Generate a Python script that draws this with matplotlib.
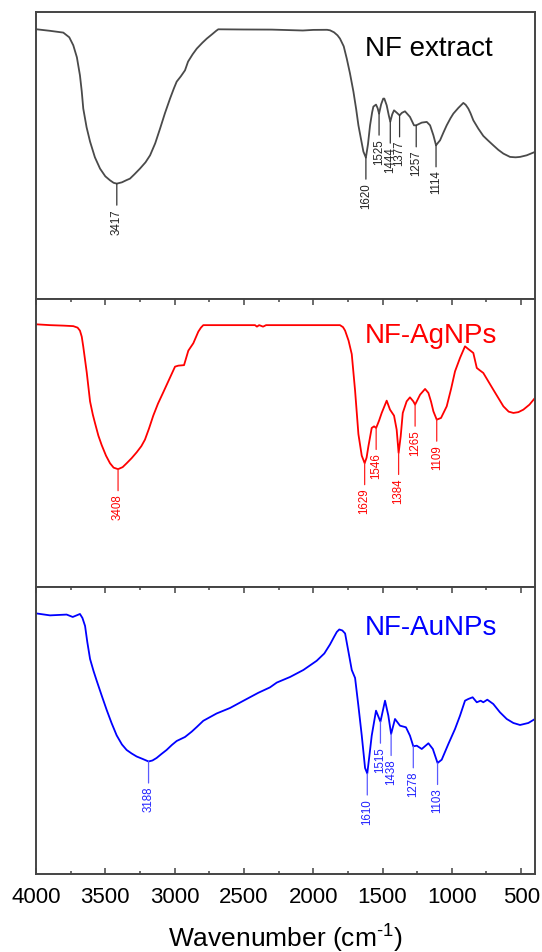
import numpy as np
import matplotlib
matplotlib.use("Agg")
import matplotlib.pyplot as plt
from matplotlib.ticker import MultipleLocator

plt.rcParams['font.family'] = ['Liberation Sans', 'DejaVu Sans']
plt.rcParams['mathtext.fontset'] = 'custom'
plt.rcParams['mathtext.rm'] = 'Liberation Sans'
plt.rcParams['mathtext.it'] = 'Liberation Sans:italic'

# ---------------- data (transmittance, arbitrary units) ----------------
nf_wn = [3995, 3900, 3803, 3760, 3731, 3705, 3683, 3670, 3659, 3635, 3610, 3575,
         3538, 3500, 3466, 3440, 3417, 3380, 3350, 3322, 3290, 3250, 3210, 3177,
         3140, 3105, 3070, 3033, 3005, 2985, 2955, 2925, 2903, 2870, 2840, 2800,
         2768, 2730, 2700, 2685, 2500, 2300, 2075, 2000, 1900, 1879, 1850, 1825,
         1807, 1780, 1758, 1735, 1710, 1690, 1674, 1655, 1638, 1620, 1605, 1590,
         1575, 1566, 1547, 1535, 1525, 1510, 1495, 1487, 1470, 1455, 1444, 1430,
         1417, 1398, 1377, 1360, 1338, 1302, 1273, 1257, 1217, 1181, 1157, 1133,
         1114, 1100, 1085, 1060, 1037, 1010, 989, 953, 917, 900, 881, 865,
         845, 809, 773, 740, 701, 665, 628, 580, 540, 508, 460, 400]
nf_t = [270.0, 268.5, 266.7, 262.0, 254.0, 242.0, 224.0, 208.0, 190.7, 172.0, 157.7, 142.0,
        130.7, 123.0, 119.0, 116.5, 115.7, 117.0, 119.0, 120.7, 125.0, 130.7, 137.0, 144.0,
        156.0, 170.7, 186.0, 200.7, 211.0, 217.7, 223.0, 229.0, 237.7, 245.0, 250.7, 256.5,
        260.7, 265.0, 268.5, 270.0, 269.8, 269.7, 268.8, 269.4, 269.5, 269.0, 267.0, 264.0,
        260.7, 253.0, 240.7, 226.0, 207.7, 190.0, 174.0, 160.0, 147.7, 141.7, 155.0, 174.0,
        187.0, 192.7, 194.7, 191.0, 185.7, 195.0, 200.7, 200.7, 194.0, 184.0, 177.7, 185.0,
        189.0, 186.7, 184.0, 186.5, 188.0, 182.4, 174.0, 174.0, 176.7, 177.4, 174.0, 164.0,
        154.0, 156.5, 159.0, 167.0, 174.0, 181.0, 185.7, 191.4, 196.4, 194.5, 190.7, 186.0,
        179.0, 170.7, 163.4, 159.0, 154.0, 149.5, 145.7, 142.4, 142.0, 142.4, 144.0, 147.4]

ag_wn = [3995, 3900, 3800, 3731, 3700, 3683, 3670, 3659, 3634, 3610, 3590, 3574,
         3550, 3526, 3495, 3466, 3440, 3408, 3375, 3346, 3310, 3274, 3240, 3214,
         3185, 3154, 3120, 3082, 3040, 2997, 2973, 2932, 2901, 2865, 2829, 2810,
         2793, 2500, 2420, 2406, 2390, 2362, 2340, 2000, 1807, 1785, 1770, 1745,
         1722, 1698, 1674, 1650, 1629, 1615, 1602, 1578, 1561, 1546, 1525, 1506,
         1470, 1446, 1417, 1398, 1384, 1369, 1354, 1326, 1302, 1278, 1265, 1229,
         1193, 1169, 1150, 1133, 1109, 1078, 1037, 1005, 977, 941, 905, 885,
         869, 845, 820, 800, 773, 701, 628, 590, 556, 520, 484, 440, 400]
ag_t = [262.3, 261.5, 261.0, 260.5, 259.0, 256.0, 250.0, 240.0, 214.3, 185.2, 172.0, 163.4,
        151.0, 141.5, 131.0, 123.4, 119.0, 117.5, 119.5, 123.4, 128.5, 134.3, 140.5, 147.0,
        158.0, 171.0, 183.0, 194.3, 207.0, 220.0, 221.0, 221.5, 236.0, 243.4, 255.0, 259.0,
        261.5, 261.5, 261.5, 260.0, 261.5, 260.0, 261.5, 261.5, 261.5, 259.5, 256.0, 246.0,
        232.5, 196.0, 152.5, 131.0, 123.5, 129.0, 140.3, 158.7, 160.3, 158.7, 166.0, 173.7,
        186.0, 177.0, 171.0, 157.0, 133.7, 150.3, 173.7, 185.3, 189.3, 185.3, 182.0, 192.0,
        197.7, 193.7, 185.0, 175.3, 167.0, 168.7, 180.3, 198.0, 215.3, 228.7, 240.3, 238.0,
        236.3, 233.7, 218.7, 216.5, 213.7, 197.0, 180.3, 175.0, 173.7, 174.5, 177.0, 182.0, 188.7]

au_wn = [3995, 3899, 3779, 3735, 3700, 3683, 3665, 3646, 3630, 3610, 3585, 3562,
         3525, 3490, 3455, 3418, 3380, 3346, 3310, 3274, 3230, 3188, 3160, 3130,
         3095, 3058, 3020, 2985, 2925, 2877, 2840, 2793, 2697, 2600, 2504, 2396,
         2312, 2263, 2167, 2071, 1975, 1920, 1879, 1850, 1830, 1812, 1790, 1770,
         1746, 1722, 1698, 1674, 1650, 1626, 1610, 1595, 1578, 1547, 1515, 1482,
         1458, 1438, 1410, 1374, 1331, 1302, 1278, 1253, 1217, 1169, 1137, 1103,
         1073, 1025, 977, 941, 905, 881, 850, 820, 792, 773, 744, 701,
         653, 604, 556, 508, 448, 400]
au_t = [260.5, 258.6, 259.4, 257.0, 259.0, 260.0, 256.0, 248.0, 232.0, 215.0, 203.0, 193.2,
        178.0, 164.0, 151.0, 138.6, 129.5, 124.0, 120.5, 117.5, 115.0, 112.5, 113.5, 116.0,
        120.0, 124.0, 129.0, 133.0, 137.0, 142.3, 147.0, 153.2, 160.5, 166.0, 173.2, 181.2,
        186.6, 191.4, 197.0, 204.0, 213.2, 220.5, 229.5, 237.0, 242.0, 244.5, 243.5, 240.5,
        222.3, 204.0, 196.0, 168.0, 138.6, 106.0, 100.5, 118.0, 138.3, 163.3, 152.3, 173.3,
        158.3, 140.0, 155.0, 148.3, 146.7, 138.3, 127.7, 128.3, 125.0, 130.7, 125.0, 111.0,
        114.3, 130.0, 145.0, 158.3, 173.3, 175.0, 176.7, 171.7, 173.3, 171.7, 174.3, 170.0,
        161.7, 155.0, 151.0, 149.0, 151.0, 155.0]

nf_peaks = [3417, 1620, 1525, 1444, 1377, 1257, 1114]
ag_peaks = [3408, 1629, 1546, 1384, 1265, 1109]
au_peaks = [3188, 1610, 1515, 1438, 1278, 1103]

names = ["NF extract", "NF-AgNPs", "NF-AuNPs"]
xticks = [4000, 3500, 3000, 2500, 2000, 1500, 1000, 500]

# ---------------- figure ----------------
W, H = 542, 953
fig = plt.figure(figsize=(W / 100, H / 100), dpi=100)
left, right = 36 / W, 535 / W
top_px, bot_px = 13, 875
ph = (bot_px - top_px) / 3

series = [
    (nf_wn, nf_t, nf_peaks, names[0], '#4a4a4a', '#333333', '#222222', '#000000', 0.852),
    (ag_wn, ag_t, ag_peaks, names[1], '#ff0000', '#ff2020', '#ff0000', '#ff0000', 0.852),
    (au_wn, au_t, au_peaks, names[2], '#0000ff', '#5a5aff', '#2020ff', '#0000ff', 0.835),
]

spine_col = '#444444'
axes = []
for i, (wn, t, peaks, name, col, lcol, tcol, ncol, ty) in enumerate(series):
    y0 = 1 - (top_px + (i + 1) * ph) / H
    ax = fig.add_axes([left, y0, right - left, ph / H])
    axes.append(ax)
    ax.plot(wn, t, color=col, lw=1.3, solid_joinstyle='round')
    ax.set_xlim(4000, 400)
    ax.set_ylim(0, 287.3)
    ax.set_yticks([])
    for s in ax.spines.values():
        s.set_color(spine_col)
        s.set_linewidth(1.4)
    ax.xaxis.set_major_locator(MultipleLocator(500))
    ax.xaxis.set_minor_locator(MultipleLocator(250))
    ax.tick_params(axis='x', which='both', direction='in', color=spine_col,
                   width=1.1, top=(i > 0), bottom=(i == 2),
                   labelbottom=(i == 2), labeltop=False)
    ax.tick_params(axis='x', which='major', length=4.3, labelsize=16, pad=9)
    ax.tick_params(axis='x', which='minor', length=2.3)
    if i == 0:
        ax.tick_params(axis='x', which='both', top=False, bottom=False)
    ax.text((365 - 36) / (535 - 36), ty, name, transform=ax.transAxes,
            fontsize=20, color=ncol, ha='left', va='baseline')
    wr, tr = np.array(wn)[::-1], np.array(t)[::-1]
    for p in peaks:
        v = np.interp(p, wr, tr)
        ax.annotate('', xy=(p, v), xytext=(0, -15.5), textcoords='offset points',
                    arrowprops=dict(arrowstyle='-', color=lcol, lw=0.9,
                                    shrinkA=0, shrinkB=0))
        ax.annotate(str(p), xy=(p, v), xytext=(0, -17.5), textcoords='offset points',
                    rotation=90, ha='center', va='top', fontsize=8.3, color=tcol)

axes[2].set_xticks(xticks)
axes[2].set_xticklabels([str(x) for x in xticks])
axes[2].set_xlabel(r'Wavenumber (cm$^{\text{-}1}$)', fontsize=19, labelpad=10)

fig.savefig('out.png', dpi=100)
